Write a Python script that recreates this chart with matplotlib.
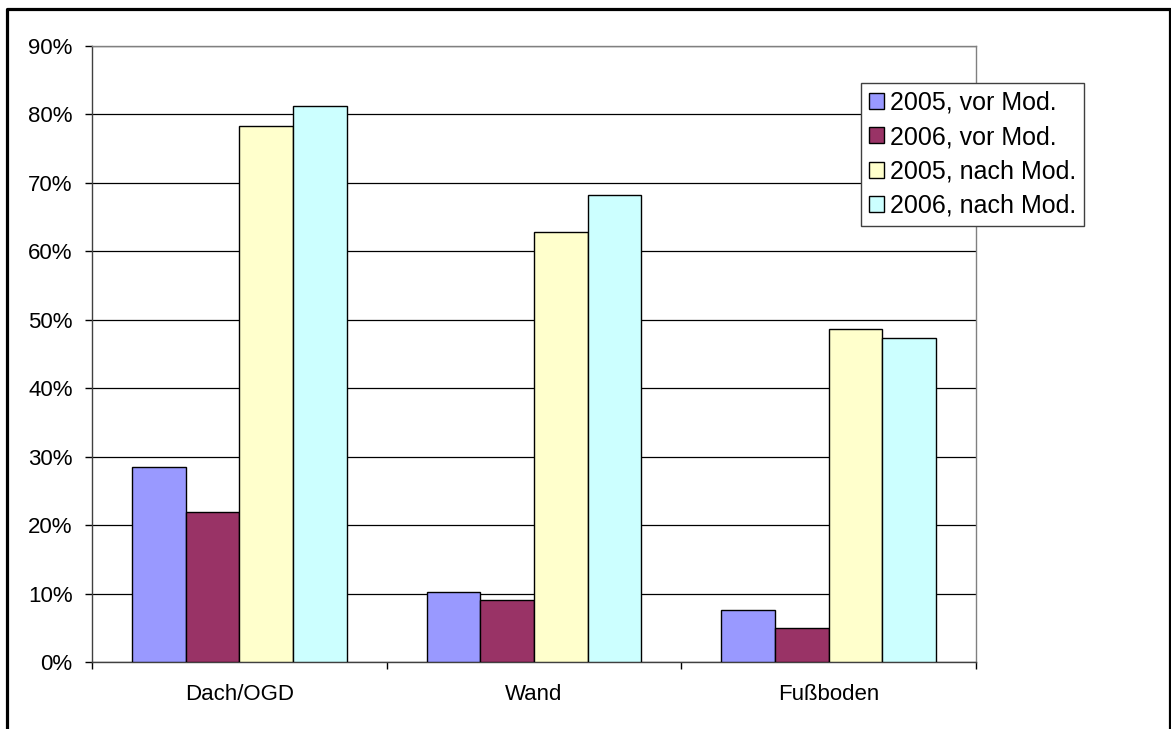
import matplotlib
matplotlib.use("Agg")
import matplotlib.pyplot as plt
from matplotlib.lines import Line2D
from matplotlib.ticker import PercentFormatter
import numpy as np

plt.rcParams['font.family'] = ['Liberation Sans', 'DejaVu Sans']

# Data
categories = ["Dach/OGD", "Wand", "Fußboden"]
series_labels = ["2005, vor Mod.", "2006, vor Mod.", "2005, nach Mod.", "2006, nach Mod."]
vor_2005 = [0.285, 0.103, 0.0755]
vor_2006 = [0.219, 0.091, 0.050]
nach_2005 = [0.783, 0.628, 0.486]
nach_2006 = [0.813, 0.682, 0.474]
series_values = [vor_2005, vor_2006, nach_2005, nach_2006]
colors = ["#9999FF", "#993366", "#FFFFCC", "#CCFFFF"]

W, H = 1171, 729
fig = plt.figure(figsize=(W / 100, H / 100), dpi=100)
ax = fig.add_axes([92 / W, 1 - 662 / H, (976 - 92) / W, (662 - 46) / H])

x = np.arange(len(categories))
bar_w = 0.182
for i, (vals, lab, col) in enumerate(zip(series_values, series_labels, colors)):
    ax.bar(x + (i - 1.5) * bar_w, vals, width=bar_w, color=col,
           edgecolor="black", linewidth=1.0, label=lab, zorder=3)

ax.set_xlim(-0.5, len(categories) - 0.5)
ax.set_ylim(0, 0.9)
ax.set_yticks(np.arange(0, 0.91, 0.1))
ax.yaxis.set_major_formatter(PercentFormatter(1.0, decimals=0))
ax.grid(axis="y", color="black", linewidth=0.9, zorder=0)
ax.set_axisbelow(True)

ax.set_xticks(x)
ax.set_xticklabels(categories)
ax.set_xticks(np.arange(-0.5, len(categories)), minor=True)
ax.tick_params(axis="x", which="major", length=0, pad=16, labelsize=16)
ax.tick_params(axis="x", which="minor", length=5, width=1, direction="out")
ax.tick_params(axis="y", length=5, width=1, pad=9, labelsize=16)

for side in ("left", "bottom"):
    ax.spines[side].set_color("#404040")
    ax.spines[side].set_linewidth(1.0)
for side in ("top", "right"):
    ax.spines[side].set_color("#808080")
    ax.spines[side].set_linewidth(1.0)

leg = fig.legend(loc="upper left", bbox_to_anchor=(861 / W, 1 - 83 / H),
                 fontsize=18, frameon=True, fancybox=False, framealpha=1,
                 edgecolor="#404040", handlelength=0.6, handleheight=0.6,
                 handletextpad=0.25, labelspacing=0.42, borderpad=0.3,
                 borderaxespad=0)
leg.get_frame().set_linewidth(1.0)

# outer frame of the chart area (left, top, right)
fx = lambda px: px / W
fy = lambda py: 1 - py / H
fig.add_artist(Line2D([fx(7), fx(7), fx(1169.5), fx(1169.5)],
                      [fy(H), fy(8.5), fy(8.5), fy(H)],
                      color="black", linewidth=2.3))

fig.savefig("out.png", dpi=100)
